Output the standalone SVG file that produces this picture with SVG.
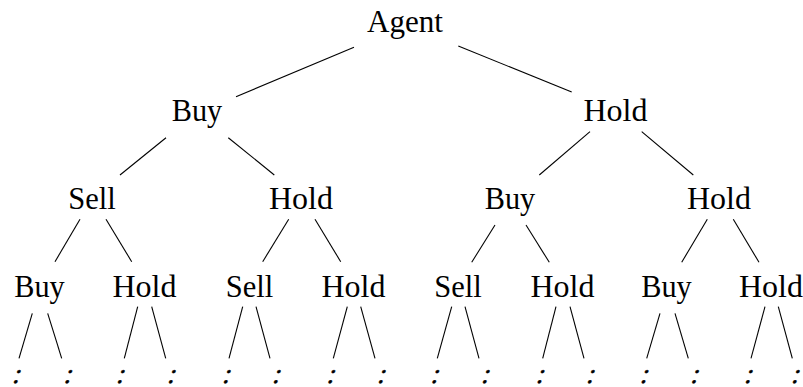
<svg xmlns="http://www.w3.org/2000/svg" width="803" height="387" viewBox="0 0 803 387">
<style>
.lbl{font-family:"Liberation Serif","Times New Roman",serif;font-size:31px;fill:#000;text-anchor:middle}
.dots{font-family:"Liberation Serif","Times New Roman",serif;font-size:28px;fill:#000;stroke:#000;stroke-width:0.4;text-anchor:middle}
.edges line{stroke:#000;stroke-width:1.1;fill:none}
</style>
<rect width="803" height="387" fill="#fff"/>
<g id="connectors" class="edges">
<line x1="354" y1="47.3" x2="236" y2="96.7"/>
<line x1="458.3" y1="46" x2="571.7" y2="92"/>
<line x1="166" y1="137.7" x2="120" y2="175"/>
<line x1="228.3" y1="137.7" x2="274.3" y2="175"/>
<line x1="590" y1="131.7" x2="539.3" y2="175"/>
<line x1="641.7" y1="131.7" x2="693.3" y2="175"/>
<line x1="80" y1="219.3" x2="55" y2="261.7"/>
<line x1="106" y1="219.3" x2="131.7" y2="261.7"/>
<line x1="288.7" y1="219.3" x2="262.7" y2="261.7"/>
<line x1="315" y1="219.3" x2="340.7" y2="261.7"/>
<line x1="495" y1="225" x2="471.7" y2="262.3"/>
<line x1="526" y1="225" x2="549.3" y2="262.3"/>
<line x1="707.3" y1="219.3" x2="681.7" y2="262.3"/>
<line x1="733.3" y1="219.3" x2="759" y2="262.3"/>
<line x1="32.3" y1="313.3" x2="19" y2="358.3"/>
<line x1="47.7" y1="313.3" x2="61.7" y2="358.3"/>
<line x1="137.7" y1="306.7" x2="124.3" y2="358.3"/>
<line x1="151.7" y1="306.7" x2="165.7" y2="358.3"/>
<line x1="242.7" y1="306.7" x2="229" y2="358.3"/>
<line x1="256" y1="306.7" x2="270" y2="358.3"/>
<line x1="347.3" y1="306.7" x2="333.3" y2="358.3"/>
<line x1="360.7" y1="306.7" x2="375" y2="358.3"/>
<line x1="451.7" y1="306.7" x2="437.3" y2="358.3"/>
<line x1="465" y1="306.7" x2="479" y2="358.3"/>
<line x1="556" y1="306.7" x2="542.7" y2="358.3"/>
<line x1="570" y1="306.7" x2="584" y2="358.3"/>
<line x1="660" y1="313.3" x2="646.7" y2="358.3"/>
<line x1="675" y1="313.3" x2="688.3" y2="358.3"/>
<line x1="765" y1="306.7" x2="751" y2="358.3"/>
<line x1="778.3" y1="306.7" x2="792.3" y2="358.3"/>
</g>
<g id="n-agent"><text class="lbl" x="405" y="32" textLength="76" lengthAdjust="spacingAndGlyphs">Agent</text></g>
<g id="n-buy"><text class="lbl" x="197" y="121" textLength="50.5" lengthAdjust="spacingAndGlyphs">Buy</text></g>
<g id="n-hold"><text class="lbl" x="615.5" y="121" textLength="64" lengthAdjust="spacingAndGlyphs">Hold</text></g>
<g id="n-buy-sell"><text class="lbl" x="92" y="208.5" textLength="47.5" lengthAdjust="spacingAndGlyphs">Sell</text></g>
<g id="n-buy-hold"><text class="lbl" x="301" y="208.5" textLength="64" lengthAdjust="spacingAndGlyphs">Hold</text></g>
<g id="n-hold-buy"><text class="lbl" x="510" y="208.5" textLength="50.5" lengthAdjust="spacingAndGlyphs">Buy</text></g>
<g id="n-hold-hold"><text class="lbl" x="719" y="208.5" textLength="64" lengthAdjust="spacingAndGlyphs">Hold</text></g>
<g id="n-bsb"><text class="lbl" x="39.5" y="296.7" textLength="50.5" lengthAdjust="spacingAndGlyphs">Buy</text></g>
<g id="n-bsh"><text class="lbl" x="144.5" y="296.7" textLength="64" lengthAdjust="spacingAndGlyphs">Hold</text></g>
<g id="n-bhs"><text class="lbl" x="249.5" y="296.7" textLength="47.5" lengthAdjust="spacingAndGlyphs">Sell</text></g>
<g id="n-bhh"><text class="lbl" x="353.5" y="296.7" textLength="64" lengthAdjust="spacingAndGlyphs">Hold</text></g>
<g id="n-hbs"><text class="lbl" x="458" y="296.7" textLength="47.5" lengthAdjust="spacingAndGlyphs">Sell</text></g>
<g id="n-hbh"><text class="lbl" x="562.5" y="296.7" textLength="64" lengthAdjust="spacingAndGlyphs">Hold</text></g>
<g id="n-hhb"><text class="lbl" x="666.5" y="296.7" textLength="50.5" lengthAdjust="spacingAndGlyphs">Buy</text></g>
<g id="n-hhh"><text class="lbl" x="771" y="296.7" textLength="64" lengthAdjust="spacingAndGlyphs">Hold</text></g>
<g id="leaves">
<text class="dots" transform="translate(15.5,382.5) skewX(-17)">:</text>
<text class="dots" transform="translate(67,382.5) skewX(-17)">:</text>
<text class="dots" transform="translate(119.5,382.5) skewX(-17)">:</text>
<text class="dots" transform="translate(170.5,382.5) skewX(-17)">:</text>
<text class="dots" transform="translate(225.5,382.5) skewX(-17)">:</text>
<text class="dots" transform="translate(275.3,382.5) skewX(-17)">:</text>
<text class="dots" transform="translate(329.8,382.5) skewX(-17)">:</text>
<text class="dots" transform="translate(380.3,382.5) skewX(-17)">:</text>
<text class="dots" transform="translate(433.8,382.5) skewX(-17)">:</text>
<text class="dots" transform="translate(484.3,382.5) skewX(-17)">:</text>
<text class="dots" transform="translate(539.2,382.5) skewX(-17)">:</text>
<text class="dots" transform="translate(589.3,382.5) skewX(-17)">:</text>
<text class="dots" transform="translate(643.2,382.5) skewX(-17)">:</text>
<text class="dots" transform="translate(693.6,382.5) skewX(-17)">:</text>
<text class="dots" transform="translate(747.5,382.5) skewX(-17)">:</text>
<text class="dots" transform="translate(794.5,382.5) skewX(-17)">:</text>
</g>
</svg>
